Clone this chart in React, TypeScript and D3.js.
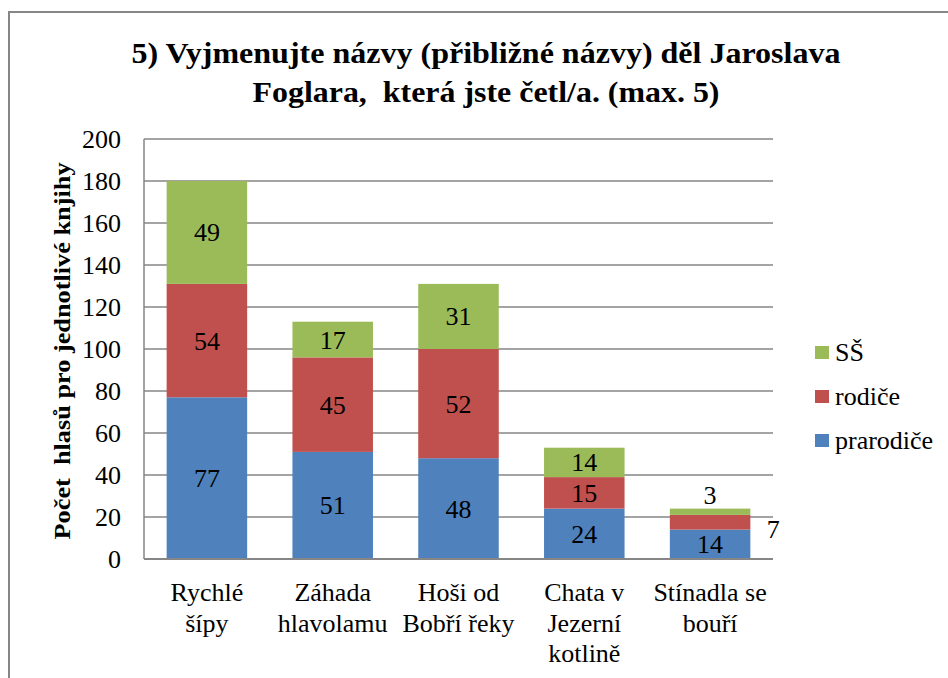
import React from "react";
import * as d3 from "d3";

const categories = [
  ["Rychlé", "šípy"],
  ["Záhada", "hlavolamu"],
  ["Hoši od", "Bobří řeky"],
  ["Chata v", "Jezerní", "kotlině"],
  ["Stínadla se", "bouří"],
];
const prarodice = [77, 51, 48, 24, 14];
const rodice = [54, 45, 52, 15, 7];
const ss = [49, 17, 31, 14, 3];
const seriesNames = ["prarodiče", "rodiče", "SŠ"];
const seriesColors = ["#4F81BD", "#C0504D", "#9BBB59"];
const yTicks = [0, 20, 40, 60, 80, 100, 120, 140, 160, 180, 200];
const titleLines = ["5) Vyjmenujte názvy (přibližné názvy) děl Jaroslava", "Foglara,  která jste četl/a. (max. 5)"];
const yAxisTitle = "Počet  hlasů pro jednotlivé knjihy";

const W = 948;
const H = 678;
const plot = { left: 144, right: 773, top: 139, bottom: 559 };
const FONT = "Liberation Serif";

export default function App() {
  const x = d3
    .scaleBand<number>()
    .domain(d3.range(categories.length))
    .range([plot.left, plot.right])
    .paddingInner(0.36)
    .paddingOuter(0.18);
  const y = d3.scaleLinear().domain([0, 200]).range([plot.bottom, plot.top]);

  const rows = categories.map((_, i) => ({ i, p: prarodice[i], r: rodice[i], s: ss[i] }));
  const stack = d3.stack<any>().keys(["p", "r", "s"])(rows);

  const cx = (i: number) => (x(i) as number) + x.bandwidth() / 2;

  return (
    <svg width={W} height={H} style={{ display: "block", position: "absolute", left: 0, top: 0 }}>
      <rect x={0} y={0} width={W} height={H} fill="#fff" />
      <path d={`M9,${H + 5} V12 H${W + 5}`} fill="none" stroke="#868686" strokeWidth={2} />
      <text x={486} y={63} textAnchor="middle" fontFamily={FONT} fontWeight="bold" fontSize={30}
        textLength={709} lengthAdjust="spacingAndGlyphs">
        {titleLines[0]}
      </text>
      <text x={486} y={102} textAnchor="middle" fontFamily={FONT} fontWeight="bold" fontSize={30}
        textLength={467} lengthAdjust="spacingAndGlyphs" style={{ whiteSpace: "pre" }}>
        {titleLines[1]}
      </text>
      {yTicks.map((t) => (
        <g key={t}>
          <line x1={plot.left} x2={plot.right} y1={y(t)} y2={y(t)} stroke="#868686" strokeWidth={1.5} />
          <text x={121} y={y(t) + 9} textAnchor="end" fontFamily={FONT} fontSize={26}>
            {t}
          </text>
        </g>
      ))}
      <line x1={plot.left} x2={plot.left} y1={plot.top} y2={plot.bottom} stroke="#868686" strokeWidth={1.5} />
      <text
        transform={`translate(70,${(plot.top + plot.bottom) / 2 + 2}) rotate(-90)`}
        textAnchor="middle"
        fontFamily={FONT}
        fontWeight="bold"
        fontSize={23}
        textLength={377}
        lengthAdjust="spacingAndGlyphs"
        style={{ whiteSpace: "pre" }}
      >
        {yAxisTitle}
      </text>
      {stack.map((layer, si) => (
        <g key={si}>
          {layer.map((d: any, i: number) => (
            <rect
              key={i}
              x={x(i)}
              y={y(d[1])}
              width={x.bandwidth()}
              height={y(d[0]) - y(d[1])}
              fill={seriesColors[si]}
            />
          ))}
        </g>
      ))}
      <line x1={plot.left} x2={plot.right} y1={plot.bottom} y2={plot.bottom} stroke="#868686" strokeWidth={2} />
      {stack.map((layer, si) =>
        layer.map((d: any, i: number) => {
          const v = d[1] - d[0];
          let lx = cx(i);
          let ly = (y(d[0]) + y(d[1])) / 2 + 9;
          if (i === 4 && si === 2) {
            ly = y(d[1]) - 5;
          }
          if (i === 4 && si === 1) {
            lx = cx(i) + x.bandwidth() / 2 + 23;
            ly = (y(d[0]) + y(d[1])) / 2 + 16;
          }
          return (
            <text key={`${si}-${i}`} x={lx} y={ly} textAnchor="middle" fontFamily={FONT} fontSize={26}>
              {v}
            </text>
          );
        })
      )}
      {categories.map((lines, i) => (
        <text key={i} textAnchor="middle" fontFamily={FONT} fontSize={26}>
          {lines.map((l, k) => (
            <tspan key={k} x={cx(i)} y={601 + k * 30.5}>
              {l}
            </tspan>
          ))}
        </text>
      ))}
      {[2, 1, 0].map((si, k) => (
        <g key={si}>
          <rect x={815} y={346 + k * 44} width={14} height={13} fill={seriesColors[si]} />
          <text x={835} y={361 + k * 44} fontFamily={FONT} fontSize={26}>
            {seriesNames[si]}
          </text>
        </g>
      ))}
    </svg>
  );
}
